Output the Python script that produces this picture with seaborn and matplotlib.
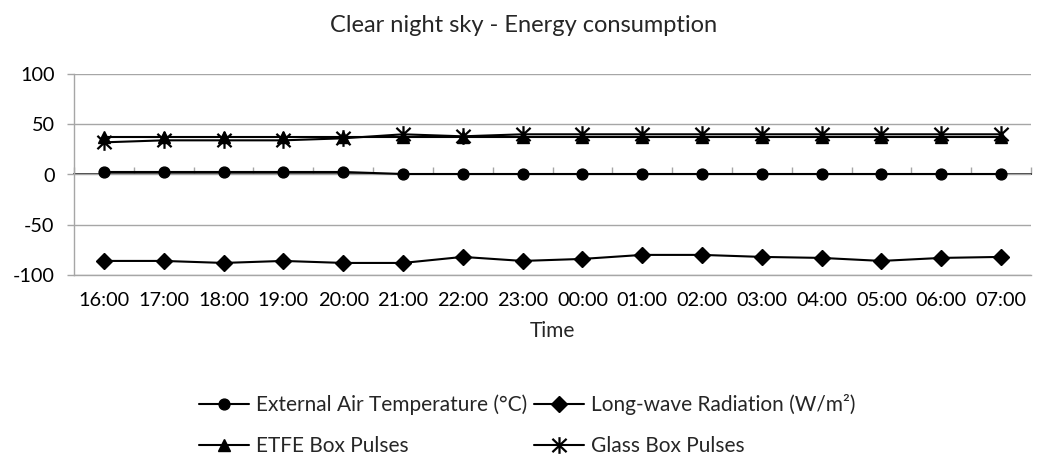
import numpy as np
import pandas as pd
import matplotlib
matplotlib.use("Agg")
import matplotlib.pyplot as plt
from matplotlib.path import Path
import seaborn as sns

times = ["16:00", "17:00", "18:00", "19:00", "20:00", "21:00", "22:00", "23:00",
         "00:00", "01:00", "02:00", "03:00", "04:00", "05:00", "06:00", "07:00"]
air_temp = [2.5, 2.5, 2.5, 2.5, 2.5, 0.5, 0.5, 0.5, 0.5, 0.5, 0.5, 0.5, 0.5, 0.5, 0.5, 0.5]
longwave = [-86, -86, -88, -86, -88, -88, -82, -86, -84, -80, -80, -82, -83, -86, -83, -82]
etfe = [37, 37, 37, 37, 37, 37, 37, 37, 37, 37, 37, 37, 37, 37, 37, 37]
glass = [32, 34, 34, 34, 36, 40, 38, 40, 40, 40, 40, 40, 40, 40, 40, 40]

names = ["External Air Temperature (°C)", "Long-wave Radiation (W/m²)",
         "ETFE Box Pulses", "Glass Box Pulses"]
series = [air_temp, longwave, etfe, glass]

# Excel style asterisk: vertical bar plus an X
star = Path([(0, -1), (0, 1), (-0.85, -0.8), (0.85, 0.8), (-0.85, 0.8), (0.85, -0.8)],
            [Path.MOVETO, Path.LINETO, Path.MOVETO, Path.LINETO, Path.MOVETO, Path.LINETO])
markers = ["o", "D", "^", star]
sizes = [7.8, 8.6, 8.6, 12]

sns.set_theme(style="white")
plt.rcParams["font.family"] = ["Lato", "DejaVu Sans"]
plt.rcParams["axes.unicode_minus"] = False
grey = "#A6A6A6"

fig = plt.figure(figsize=(10.37, 4.69), dpi=100)
ax = fig.add_axes([74 / 1037, 1 - 275 / 469, (1031 - 74) / 1037, 201 / 469])

for name, vals, mk, ms in zip(names, series, markers, sizes):
    d = pd.DataFrame({"pos": np.arange(len(times)), "value": vals})
    sns.lineplot(data=d, x="pos", y="value", color="black", marker=mk, markersize=ms,
                 markerfacecolor="black", markeredgecolor="black",
                 markeredgewidth=1.6 if mk is star else 1.0,
                 linewidth=1.5, label=name, ax=ax)

ax.set_xlim(-0.5, len(times) - 0.5)
ax.set_ylim(-100, 100)
ax.set_yticks([-100, -50, 0, 50, 100])
ax.yaxis.grid(True, color=grey, linewidth=1)
ax.xaxis.grid(False)
ax.set_xticks(np.arange(len(times)))
ax.set_xticklabels(times)
ax.tick_params(axis="x", length=0, pad=12, labelsize=14.3, labelcolor="black")
ax.tick_params(axis="y", left=True, length=5, width=1, color=grey, labelsize=14.3,
               labelcolor="black", pad=9)
for s in ["top", "right"]:
    ax.spines[s].set_visible(False)
for s in ["left", "bottom"]:
    ax.spines[s].set_color(grey)
    ax.spines[s].set_linewidth(1)

# category axis crossing at zero
sec = ax.secondary_xaxis(0.5)
sec.set_xticks(np.arange(len(times) + 1) - 0.5)
sec.set_xticklabels([])
sec.tick_params(axis="x", direction="out", length=5, width=1, color=grey)
sec.spines["bottom"].set_color(grey)
sec.spines["bottom"].set_linewidth(1)

ax.set_xlabel("Time", fontsize=15, labelpad=9)
ax.set_ylabel("")
fig.suptitle("Clear night sky - Energy consumption", fontsize=17, x=0.505,
             y=1 - 25 / 469, va="center")

handles, labels = ax.get_legend_handles_labels()
ax.get_legend().remove()
order = [0, 2, 1, 3]
fig.legend([handles[i] for i in order], [labels[i] for i in order], ncol=2,
           loc="upper center", bbox_to_anchor=(527 / 1037, 1 - 386 / 469), frameon=False,
           fontsize=15, handlelength=2.4, handletextpad=0.35, labelspacing=1.0,
           columnspacing=0.3, borderaxespad=0)

fig.savefig("out.png", dpi=100)
